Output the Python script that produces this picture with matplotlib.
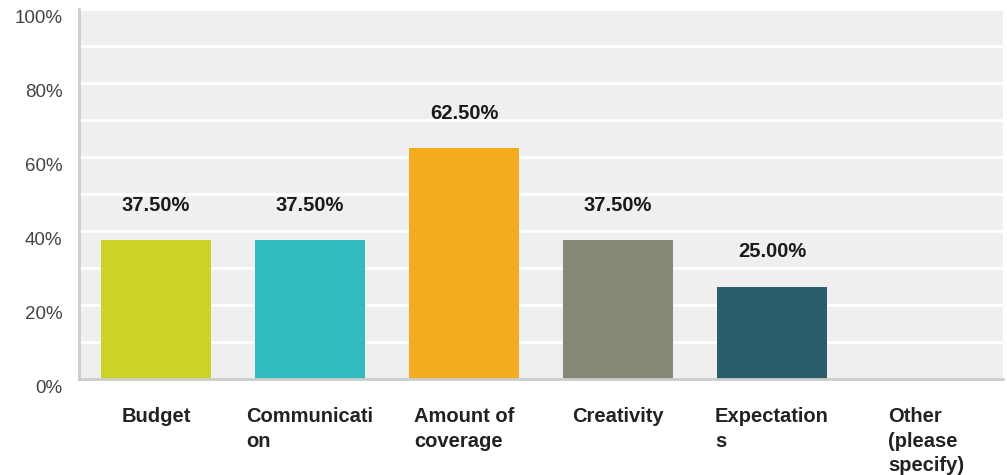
import numpy as np
import matplotlib.pyplot as plt
from matplotlib.ticker import FixedLocator, PercentFormatter
from matplotlib.transforms import ScaledTranslation

categories = ["Budget", "Communicati\non", "Amount of\ncoverage", "Creativity",
              "Expectation\ns", "Other\n(please\nspecify)"]
responses = [37.50, 37.50, 62.50, 37.50, 25.00, 0.00]
bar_colors = ["#cdd325", "#33bcbe", "#f5ab1f", "#878877", "#2c5d6a", "#cccccc"]

plt.rcParams["font.family"] = ["Liberation Sans", "DejaVu Sans"]


def main():
  fig = plt.figure(figsize=(10.07, 4.75), dpi=100)
  ax = fig.add_axes([0.0785, 0.202, 0.9175, 0.779])
  ax.set_facecolor("#efefef")

  x = np.arange(len(categories))
  bars = ax.bar(x, responses, width=0.72, color=bar_colors, zorder=3)

  for rect, val in zip(bars, responses):
    if val == 0:
      continue
    ax.annotate(f"{val:.2f}%", (rect.get_x() + rect.get_width() / 2, val),
                xytext=(0, 25), textcoords="offset points",
                ha="center", va="center", fontsize=14.5, fontweight="bold",
                color="#1a1a1a")

  ax.set_xlim(-0.5, len(categories) - 0.5)
  ax.set_ylim(0, 100)
  ax.yaxis.set_major_locator(FixedLocator(range(0, 101, 20)))
  ax.yaxis.set_minor_locator(FixedLocator(range(10, 100, 20)))
  ax.yaxis.set_major_formatter(PercentFormatter(decimals=0))
  ax.grid(axis="y", which="both", color="white", linewidth=2, zorder=1)

  ax.set_xticks(x)
  ax.set_xticklabels(categories, fontsize=14.5, fontweight="bold", color="#222222",
                     multialignment="left", linespacing=1.38)
  ax.tick_params(axis="x", length=0, pad=20)
  ax.tick_params(axis="y", which="both", length=0, pad=12, labelsize=13.5,
                 labelcolor="#444444")

  # y labels sit a little below their gridlines
  shift = ScaledTranslation(0, -7 / 100, fig.dpi_scale_trans)
  for lbl in ax.get_yticklabels():
    lbl.set_transform(lbl.get_transform() + shift)

  for side in ["top", "right"]:
    ax.spines[side].set_visible(False)
  for side in ["left", "bottom"]:
    ax.spines[side].set_color("#cccccc")
    ax.spines[side].set_linewidth(2)
    ax.spines[side].set_zorder(4)

  fig.savefig("out.png", dpi=100, facecolor="white")


if __name__ == "__main__":
  main()
